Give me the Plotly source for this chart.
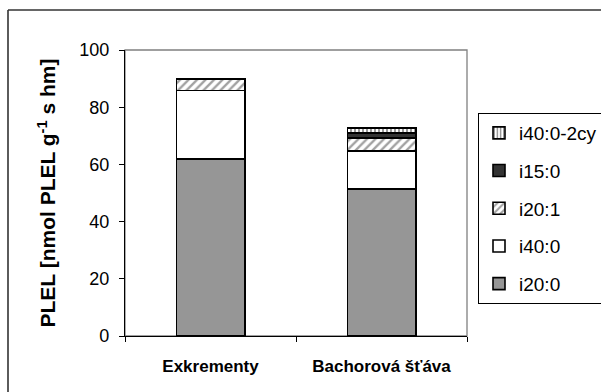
import plotly.graph_objects as go

# Categories and stacked series (nmol PLEL per g)
categories = ["Exkrementy", "Bachorová šťáva"]
i20_0 = [61.8, 51.4]
i40_0 = [24.0, 13.3]
i20_1 = [4.1, 4.5]
i15_0 = [None, 1.8]
i40_0_2cy = [None, 1.7]

y_ticks = [0, 20, 40, 60, 80, 100]

FONT = "Liberation Sans, Arial, sans-serif"
EDGE = dict(color="black", width=1.6)

# bottom-to-top stacking order
series = [
    ("i20:0", i20_0, dict(color="#969696", line=EDGE)),
    ("i40:0", i40_0, dict(color="white", line=EDGE)),
    ("i20:1", i20_1, dict(color="white", line=EDGE,
                          pattern=dict(shape="/", fgcolor="#444444", bgcolor="white",
                                       size=6, solidity=0.4))),
    ("i15:0", i15_0, dict(color="#333333", line=EDGE)),
    ("i40:0-2cy", i40_0_2cy, dict(color="white", line=EDGE,
                                  pattern=dict(shape="|", fgcolor="black", bgcolor="white",
                                               size=4, solidity=0.4))),
]

fig = go.Figure()
for k, (name, vals, marker) in enumerate(series):
    # top of the stack is listed first in the legend
    fig.add_trace(go.Bar(x=categories, y=vals, name=name, marker=marker,
                         legendgroup=name, legendrank=len(series) - k))

# plot area: x 125..467, y 50..336 in a 601x392 page
L, R, T, B = 125, 601 - 467, 50, 392 - 336
W, H = 601 - L - R, 392 - T - B

def px_x(p):
    return (p - L) / W

def px_y(p):
    return (392 - B - p) / H

fig.update_layout(
    width=601, height=392,
    margin=dict(l=L, r=R, t=T, b=B, autoexpand=False),
    paper_bgcolor="white", plot_bgcolor="white",
    barmode="stack", bargap=0.6,
    font=dict(family=FONT, color="black", size=18),
    legend=dict(
        x=px_x(478), xanchor="left",
        y=px_y(304), yanchor="bottom",
        traceorder="grouped", tracegroupgap=10,
        bordercolor="black", borderwidth=1,
        font=dict(size=19, family=FONT),
        bgcolor="white",
    ),
    xaxis=dict(
        showline=True, linecolor="black", linewidth=1.3,
        ticks="outside", ticklen=5, tickcolor="black",
        tickson="boundaries",
        tickfont=dict(size=17, family=FONT, weight="bold"),
        ticklabelstandoff=14,
        showgrid=False,
    ),
    yaxis=dict(
        range=[0, 100], tickvals=y_ticks,
        showline=True, linecolor="black", linewidth=1.3,
        ticks="outside", ticklen=5, tickcolor="black",
        ticklabelstandoff=6,
        showgrid=False, zeroline=False,
        title=dict(text="PLEL [nmol PLEL g<sup>-1</sup> s hm]",
                   font=dict(size=21, family=FONT, weight="bold"),
                   standoff=17),
    ),
    shapes=[
        # plot-area frame (grey), axis lines drawn over it
        dict(type="rect", xref="paper", yref="paper", x0=0, y0=0, x1=1, y1=1,
             line=dict(color="#808080", width=1.3), layer="below"),
        # outer chart border
        dict(type="line", xref="paper", yref="paper",
             x0=px_x(8), x1=px_x(8), y0=px_y(10), y1=px_y(395),
             line=dict(color="#333333", width=1.6)),
        dict(type="line", xref="paper", yref="paper",
             x0=px_x(8), x1=px_x(604), y0=px_y(10), y1=px_y(10),
             line=dict(color="#333333", width=1.6)),
    ],
)

fig.write_html("out.html")
